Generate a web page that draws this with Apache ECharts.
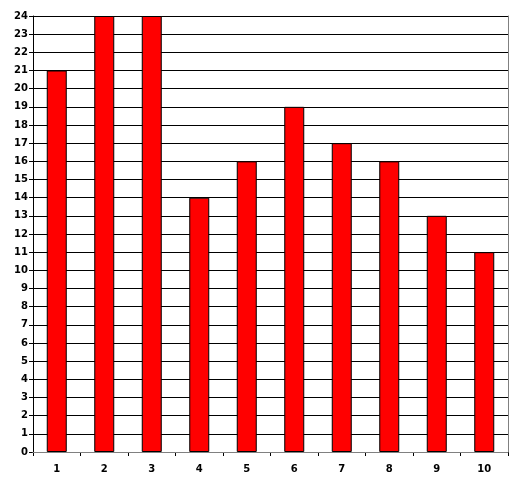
<!DOCTYPE html>
<html><head><meta charset="utf-8">
<script src="https://cdn.jsdelivr.net/npm/echarts@6/dist/echarts.min.js"></script>
<style>html,body{margin:0;padding:0;background:#fff}#c{width:526px;height:504px}</style>
</head><body><div id="c"></div>
<script>
const categories = ['1','2','3','4','5','6','7','8','9','10'];
const values = [21, 24, 24, 14, 16, 19, 17, 16, 13, 11];
const yMin = 0, yMax = 24, yStep = 1;

const chart = echarts.init(document.getElementById('c'), null, {renderer:'canvas'});
const font = {fontFamily:'DejaVu Sans', fontWeight:'bold', fontSize:10, color:'#000'};
chart.setOption({
  animation:false,
  backgroundColor:'#fff',
  grid:{left:33, right:18, top:16, bottom:52, show:false},
  xAxis:[{
    type:'category', data:categories, position:'bottom',
    axisLine:{lineStyle:{color:'#000', width:1}},
    axisTick:{show:true, length:4, alignWithLabel:false, lineStyle:{color:'#000'}},
    axisLabel:Object.assign({margin:12}, font),
    splitLine:{show:false}
  },{
    type:'category', data:categories, position:'top',
    axisLine:{lineStyle:{color:'#808080', width:1}},
    axisTick:{show:false}, axisLabel:{show:false}, splitLine:{show:false}, z:5
  }],
  yAxis:[{
    type:'value', min:yMin, max:yMax, interval:yStep, position:'left',
    axisLine:{show:true, lineStyle:{color:'#000'}},
    axisTick:{show:true, length:4, lineStyle:{color:'#000'}},
    axisLabel:Object.assign({margin:5}, font),
    splitLine:{show:true, lineStyle:{color:'#000', width:1}}
  },{
    type:'value', min:yMin, max:yMax, interval:yStep, position:'right',
    axisLine:{show:true, lineStyle:{color:'#808080'}},
    axisTick:{show:false}, axisLabel:{show:false}, splitLine:{show:false}
  }],
  series:[{
    type:'bar', data:values, barWidth:20,
    itemStyle:{color:'#ff0000', borderColor:'#000', borderWidth:1}
  }]
});
</script></body></html>
